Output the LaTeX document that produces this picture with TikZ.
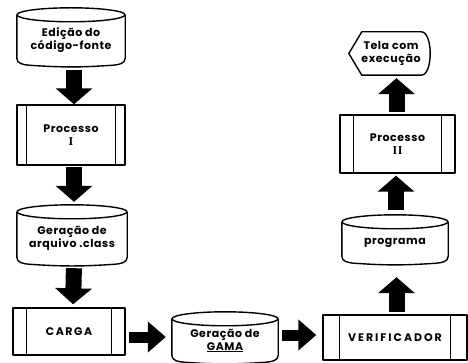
\documentclass[tikz,border=0pt]{standalone}
\usepackage{fontspec}
\setmainfont{Poppins}[LetterSpace=5]
\newfontfamily\romanI{Liberation Serif}[LetterSpace=5]
\usetikzlibrary{arrows.meta,calc}

\tikzset{
  outline/.style={line width=1.4pt, line join=round},
  txt/.style={font=\bfseries\fontsize{11}{13}\selectfont, align=center, inner sep=0pt},
  diskbody/.style={txt, draw=none},
  procbody/.style={txt, draw, outline},
  blockdown/.style={line width=16pt, -{Triangle[width=36pt,length=16pt]}},
  blockside/.style={line width=11pt, -{Triangle[width=30pt,length=18pt]}},
}

% storage drum: #1 name, #2 centre of the body, #3 width, #4 body height, #5 text
\newcommand{\drum}[5]{%
  \node[diskbody, minimum width=#3, minimum height=#4] (#1) at #2 {#5};
  \draw[outline] (#1.north) ellipse [x radius=#3/2, y radius=7pt];
  \draw[outline] (#1.north west) -- ([yshift=7pt]#1.south west)
    to[out=-90,in=175] ([xshift=12pt]#1.south west)
    to[bend right=4] ([xshift=-12pt]#1.south east)
    to[out=5,in=-90] ([yshift=7pt]#1.south east) -- (#1.north east);
}
% predefined process box: #1 name, #2 centre, #3 width, #4 height, #5 inset, #6 text
\newcommand{\procbox}[6]{%
  \node[procbody, minimum width=#3, minimum height=#4] (#1) at #2 {#6};
  \draw[outline] ([xshift=#5]#1.north west) -- ([xshift=#5]#1.south west);
  \draw[outline] ([xshift=-#5]#1.north east) -- ([xshift=-#5]#1.south east);
}
\newcommand{\numeral}[1]{{\romanI\bfseries\fontsize{12}{13}\selectfont #1}}

\begin{document}
\begin{tikzpicture}[x=1pt,y=-1pt]
\useasboundingbox (0,0) rectangle (468,363);

% left column
\drum{src}{(71,40)}{108pt}{50pt}{Edição do\\código-fonte}
\procbox{procI}{(71,135)}{108pt}{60pt}{10pt}{Processo\\\numeral{I}}
\drum{cls}{(72,238)}{110pt}{52pt}{Geração de\\arquivo .class}
\procbox{carga}{(69,331.5)}{112pt}{47pt}{14pt}{\addfontfeatures{LetterSpace=14}CARGA}

% bottom middle
\drum{gama}{(225,340.5)}{106pt}{43pt}{Geração de\\\underline{GAMA}}

% right column
\procbox{verif}{(395,337.5)}{144pt}{45pt}{17pt}{\addfontfeatures{LetterSpace=18}VERIFICADOR}
\drum{prog}{(395,242.5)}{106pt}{41pt}{programa}
\procbox{procII}{(397.5,144)}{115pt}{58pt}{14pt}{Processo\\\numeral{II}}
\node[txt, minimum width=84pt, minimum height=43pt] (tela) at (391,53.5) {Tela com\\execução};
\draw[outline] (tela.west) -- ([xshift=13pt]tela.north west)
  -- ([xshift=-12pt]tela.north east)
  .. controls (tela.north east) and (tela.south east) .. ([xshift=-12pt]tela.south east)
  -- ([xshift=13pt]tela.south west) -- cycle;

% block arrows
\draw[blockdown, shorten <=5pt, shorten >=0pt] ([xshift=3pt]src.south) -- ([xshift=3pt]procI.north);
\draw[blockdown, shorten <=1pt, shorten >=3pt] ([xshift=3pt]procI.south) -- ([xshift=2pt,yshift=7pt]cls.north);
\draw[blockdown, shorten <=4pt, shorten >=3pt] ([xshift=2pt]cls.south) -- ([xshift=4pt]carga.north);
\draw[blockside, shorten <=3pt, shorten >=6pt] ([yshift=-5.5pt]carga.east) -- ([yshift=-5.5pt]carga.east -| gama.west);
\draw[blockside, shorten <=4pt, shorten >=6pt] ([yshift=2.5pt]verif.west -| gama.east) -- ([yshift=2.5pt]verif.west);
\draw[blockdown, shorten <=2pt, shorten >=14pt] ([xshift=1.5pt]verif.north) -- ([xshift=1.5pt]prog.south);
\draw[blockdown, shorten <=5pt, shorten >=2pt] ([xshift=1pt,yshift=7pt]prog.north) -- ([xshift=-1.5pt]procII.south);
\draw[blockdown, shorten <=2pt, shorten >=3pt] ([xshift=-1pt]procII.north) -- ([xshift=5.5pt]tela.south);
\end{tikzpicture}
\end{document}
